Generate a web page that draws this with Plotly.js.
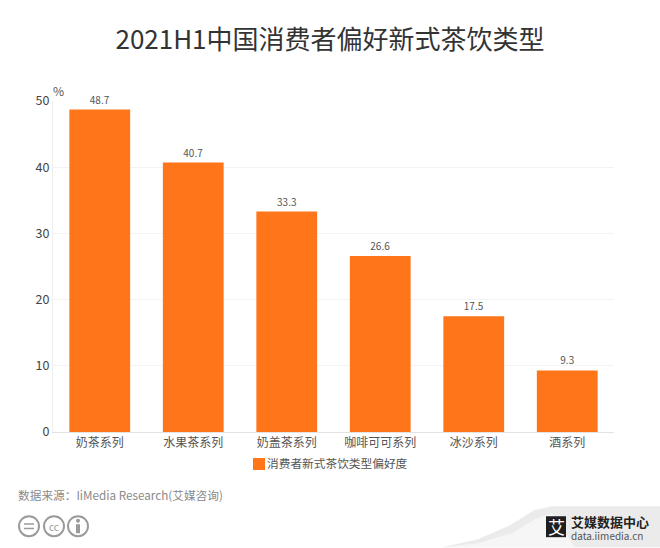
<!DOCTYPE html>
<html><head><meta charset="utf-8">
<script src="https://cdn.plot.ly/plotly-3.0.1.min.js"></script>
<style>html,body{margin:0;padding:0;background:#fff}</style></head>
<body><div id="c" style="width:660px;height:548px"></div>
<script>
var categories=["奶茶系列","水果茶系列","奶盖茶系列","咖啡可可系列","冰沙系列","酒系列"];
var values=[48.7,40.7,33.3,26.6,17.5,9.3];
var seriesName="消费者新式茶饮类型偏好度";
var titleText="2021H1中国消费者偏好新式茶饮类型";
var sourceText="数据来源：IiMedia Research(艾媒咨询)";
var F='"Noto Sans CJK SC","Noto Sans",sans-serif';
var L=53,T=100.5,W=561,H=332;
function X(x){return (x-L)/W;}
function Y(y){return 1-(y-T)/H;}
function ann(x,y,t,s,c,extra){return Object.assign({xref:'paper',yref:'paper',x:X(x),y:Y(y),text:t,showarrow:false,xanchor:'left',yanchor:'middle',font:{family:F,size:s,color:c}},extra||{});}
function circle(cx,cy,r){return {type:'circle',xref:'paper',yref:'paper',x0:X(cx-r),x1:X(cx+r),y0:Y(cy+r),y1:Y(cy-r),line:{color:'#9a9a9a',width:2},fillcolor:'#fff',layer:'above'};}
function rect(x0,y0,x1,y1,col){return {type:'rect',xref:'paper',yref:'paper',x0:X(x0),x1:X(x1),y0:Y(y1),y1:Y(y0),line:{width:0},fillcolor:col,layer:'above'};}
function poly(pts,col){var d=pts.map(function(p,i){return (i?'L':'M')+X(p[0])+','+Y(p[1]);}).join(' ')+' Z';return {type:'path',xref:'paper',yref:'paper',path:d,line:{width:0},fillcolor:col,layer:'below'};}
var shapes=[
 poly([[442,548],[478,540],[510,526],[534,511],[552,507],[660,507],[660,548]],'#ebebeb'),
 poly([[442,548],[478,544],[512,534],[535,520],[552,514],[575,548]],'#f6f6f6'),
 circle(29,527,10),circle(54,527,10),circle(78,527,10),
 rect(24,524,34,525.5,'#9a9a9a'),rect(24,528.5,34,530,'#9a9a9a'),
 rect(76,525,80,534,'#9a9a9a'),circle(78,521.5,1),
 rect(546,517,566,538,'#1f1f1f')
];
var annotations=[
 ann(51,90,'%',12,'#555'),
 ann(16,495,sourceText,11.7,'#8a8a8a'),
 ann(54,527,'cc',10,'#9a9a9a',{xanchor:'center'}),
 ann(556,527,'艾',17,'#fff',{xanchor:'center'}),
 ann(569,522,'艾媒数据中心',13,'#222',{font:{family:F,size:13,color:'#222',weight:700}}),
 ann(569,536,'data.iimedia.cn',10,'#555')
];
Plotly.newPlot('c',[{type:'bar',x:categories,y:values,name:seriesName,marker:{color:'#ff751a'},width:0.65,
 text:values.map(function(v){return v.toFixed(1)}),textposition:'outside',cliponaxis:false,
 textfont:{family:F,size:10,color:'#555'},showlegend:true}],{
 width:660,height:548,margin:{l:L,r:660-L-W,t:T,b:548-T-H},paper_bgcolor:'#fff',plot_bgcolor:'#fff',
 title:{text:titleText,x:0.5,xanchor:'center',y:0.927,yanchor:'middle',font:{family:F,size:26,color:'#333'}},
 xaxis:{tickfont:{family:F,size:12,color:'#555'},ticks:'',showline:true,linecolor:'#e3e3e3',linewidth:1,showgrid:false,automargin:false},
 yaxis:{range:[0,50],dtick:10,tickfont:{family:F,size:12.5,color:'#444'},gridcolor:'#f3f3f3',gridwidth:1,showline:true,linecolor:'#eeeeee',ticks:'',zeroline:false,automargin:false},
 showlegend:true,
 legend:{orientation:'h',x:X(239),xanchor:'left',y:Y(464.5),yanchor:'middle',font:{family:F,size:11.7,color:'#555'},bgcolor:'rgba(0,0,0,0)'},
 shapes:shapes,annotations:annotations,bargap:0.35
},{displayModeBar:false,staticPlot:true}).then(function(){
 var t=document.querySelector('.legendtext');
 if(t){t.setAttribute('x',parseFloat(t.getAttribute('x'))-12);}
});
</script></body></html>
